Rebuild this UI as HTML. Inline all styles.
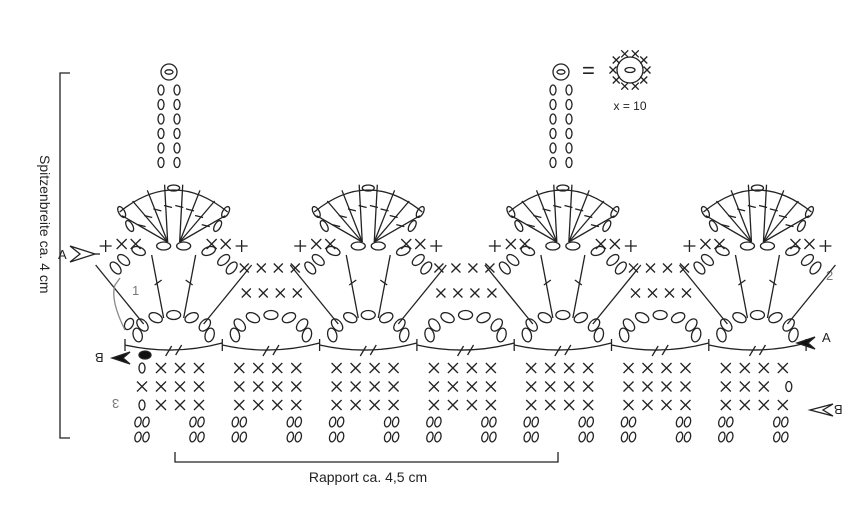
<!DOCTYPE html>
<html><head><meta charset="utf-8"><style>
html,body{margin:0;padding:0;background:#fff;width:862px;height:506px;overflow:hidden}
svg{display:block;font-family:"Liberation Sans",sans-serif}
</style></head><body>
<svg id="s" width="862" height="506" viewBox="0 0 862 506" xmlns="http://www.w3.org/2000/svg">
<g stroke="#222" fill="none" stroke-width="1.3">
<path d="M70 73 H60 V438 H70"/>
<path d="M175 452 V462 H558 V452"/>
</g>
<text x="0" y="0" font-size="14" fill="#222" transform="translate(40,155) rotate(90)">Spitzenbreite ca. 4 cm</text>
<text x="368" y="482" font-size="14" fill="#222" text-anchor="middle">Rapport ca. 4,5 cm</text>
<text x="582" y="78" font-size="22" fill="#222">=</text>
<text x="630" y="110" font-size="12" fill="#222" text-anchor="middle">x = 10</text>
<text x="58" y="259" font-size="13" fill="#222">A</text>
<text x="822" y="342" font-size="13" fill="#222">A</text>
<text x="826" y="280" font-size="13" fill="#777">2</text>
<text x="132" y="295" font-size="13" fill="#777">1</text>
<g id="g" stroke="#222" fill="none" stroke-width="1.3"></g>
</svg>
<script>
var g=document.getElementById('g'),h='';
function X(x,y,s){s=s||5;h+='<path d="M'+(x-s)+' '+(y-s)+'L'+(x+s)+' '+(y+s)+'M'+(x+s)+' '+(y-s)+'L'+(x-s)+' '+(y+s)+'"/>';}
function P(x,y){h+='<path d="M'+(x-6)+' '+y+'H'+(x+6)+'M'+x+' '+(y-6)+'V'+(y+6)+'"/>';}
function O(x,y,rx,ry,a){h+='<ellipse cx="'+x+'" cy="'+y+'" rx="'+rx+'" ry="'+ry+'" transform="rotate('+(a||0)+' '+x+' '+y+')"/>';}
function L(a,b,c,d){h+='<path d="M'+a+' '+b+'L'+c+' '+d+'"/>';}
var P0=125,Pd=97.3;
[[161,177],[553,569]].forEach(function(c){
  for(var i=0;i<6;i++){O(c[0],90+i*14.5,3,5);O(c[1],90+i*14.5,3,5);}
  h+='<circle cx="'+(c[0]+8)+'" cy="72" r="8"/>';O(c[0]+8,72,4,2.2);
});
h+='<circle cx="630" cy="70" r="13"/>';O(630,70,5,2.5);
for(var i=0;i<10;i++){var a=i*Math.PI/5;X(630+17*Math.cos(a),70+17*Math.sin(a),3.5);}
for(var k=0;k<7;k++){var t=P0+k*Pd;
 h+='<path d="M'+t+' 345 Q'+(t+Pd/2)+' 356 '+(t+Pd)+' 343"/>';
 L(t,339,t,351);L(t+Pd/2-8,356,t+Pd/2-2,346);L(t+Pd/2+2,355,t+Pd/2+8,345);
}
L(P0+7*Pd,339,P0+7*Pd,351);
for(var k=0;k<7;k++){var t=P0+k*Pd,cx=t+Pd/2;
 for(var j=0;j<7;j++){var an=Math.PI*(1-j/6);var x=cx+36*Math.cos(an),y=335-20*Math.sin(an);O(x,y,7,4.5,(j-3)*-25);}
 for(var r=0;r<3;r++)for(var c=0;c<4;c++){var x=t+17+c*19,y=368+r*18.5;
   if(k==0&&c==0&&r!=1)O(x,y,3,5);else if(k==6&&c==3&&r==1)O(x+6,y,3,5);else X(x,y);}
 [t+17,t+72].forEach(function(x){O(x-4,422,3,5,15);O(x+4,422,3,5,15);O(x-4,437,3,5,15);O(x+4,437,3,5,15);});
 if(k%2==0){
  L(cx-10,318,cx-22,255);L(cx+10,318,cx+22,255);L(cx-30,324,cx-78,265);L(cx+30,324,cx+78,265);
  L(cx-19,285,cx-12,280);L(cx+12,280,cx+19,285);
  [[-58,268,50],[-50,260,40],[-35,251,20],[-10,246,0],[10,246,0],[35,251,-20],[50,260,-40],[58,268,-50]].forEach(function(o){O(cx+o[0],o[1],7,4,o[2]);});
  P(cx-68,246);X(cx-52,244);X(cx-38,244);X(cx+38,244);X(cx+52,244);P(cx+68,246);
  for(var j=0;j<8;j++){var an=Math.PI*(1.15+j*0.7/7);var x=cx+58*Math.cos(an),y=242+58*Math.sin(an);
    L(cx+(j<4?-6:6),242,x,y);var mx=cx+36*Math.cos(an),my=242+36*Math.sin(an);L(mx-4,my-1,mx+4,my+1);}
  h+='<path d="M'+(cx-54)+' 212 Q'+cx+' 168 '+(cx+54)+' 212"/>';
  O(cx,188,6,3);O(cx-52,212,3,6,-30);O(cx+52,212,3,6,30);O(cx-44,226,3,6,-30);O(cx+44,226,3,6,30);
 } else {
  for(var c=0;c<4;c++){X(t+22+c*17,268,4.5);X(t+24+c*17,293,4.5);}
 }
}
h+='<path d="M70 246 L95 254 L70 262 L80 254 Z"/><path d="M95 254H100"/>';
h+='<path d="M815 337 L797 343 L815 349 L808 343Z" fill="#111"/>';
h+='<path d="M833 404 L810 410 L833 416 L823 410Z"/>';
h+='<path d="M130 352 L112 358 L130 364 L123 358Z" fill="#111"/>';
O(129,324,4,6,30);h+='<ellipse cx="145" cy="355" rx="6" ry="4" fill="#111"/>';
h+='<path d="M125 330 Q110 300 115 285 L120 278" stroke="#888"/>';
g.innerHTML=h;
</script>
<div style="position:absolute;left:95px;top:350px;font:13px 'Liberation Sans',sans-serif;color:#222;transform:rotate(180deg)">B</div>
<div style="position:absolute;left:112px;top:396px;font:13px 'Liberation Sans',sans-serif;color:#777;transform:rotate(180deg)">3</div>
<div style="position:absolute;left:834px;top:402px;font:13px 'Liberation Sans',sans-serif;color:#222;transform:rotate(180deg)">B</div>
</body></html>
